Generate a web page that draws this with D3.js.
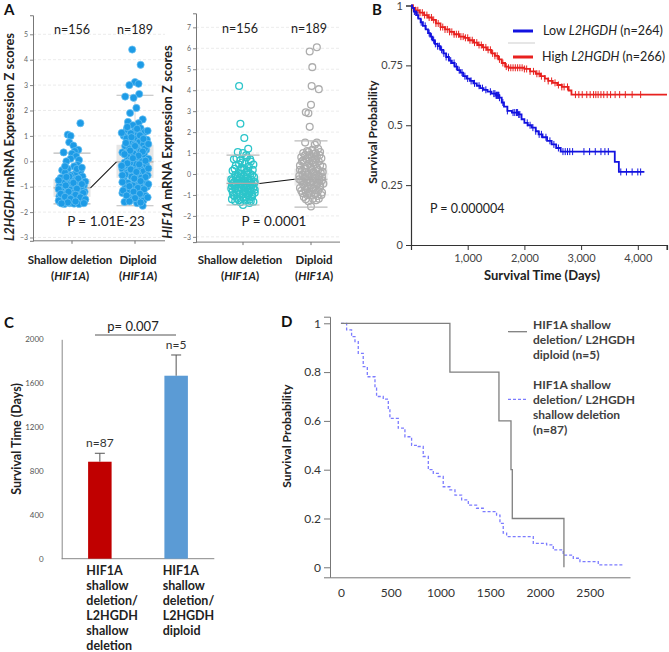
<!DOCTYPE html>
<html><head><meta charset="utf-8">
<script src="https://cdn.jsdelivr.net/npm/d3@7"></script>
<style>
body{margin:0;background:#fff}
text{font-family:Lato,'Open Sans',sans-serif}
</style>
</head><body>
<svg id="c" width="669" height="652" xmlns="http://www.w3.org/2000/svg"></svg>
<script>
// ---------------- DATA ----------------
const groupsA = ["Shallow deletion", "Diploid"];
const nLabelsA = ["n=156", "n=189"];
const l2Ticks = [-3, -2, -1, 0, 1, 2, 3, 4, 5];
const hifTicks = [-3, -2, -1, 0, 1, 2, 3, 4, 5, 6, 7];
// [jitter (-1..1), z score]
const l2Shallow = [[0.6,1.5],[-0.3,1.05],[-0.1,1.0],[-0.2,0.75],[0.1,0.62],[0.45,0.45],[0.2,0.4],[-0.6,0.35],[0.0,0.3],[0.3,0.2],[-0.1,0.1],[0.5,0.05],[0.4,-0.15],[0.15,-0.2],[-0.3,-0.3],[-0.7,-0.35],[0.6,-0.4],[-0.5,-0.45],[0.2,-0.5],[-0.1,-0.55],[0.75,-0.6],[-0.8,-0.65],[0.35,-0.7],[-0.4,-0.72],[0.0,-0.78],[0.55,-0.8],[-0.65,-0.85],[0.25,-0.88],[-0.25,-0.92],[0.85,-0.95],[-0.9,-0.98],[0.05,-1.0],[0.45,-1.03],[-0.5,-1.05],[0.7,-1.1],[-0.15,-1.12],[0.3,-1.15],[-0.75,-1.18],[0.9,-1.2],[-0.35,-1.22],[0.1,-1.25],[0.6,-1.28],[-0.6,-1.3],[-0.05,-1.33],[0.4,-1.36],[-0.9,-1.38],[0.8,-1.4],[-0.3,-1.42],[0.2,-1.45],[0.55,-1.48],[-0.7,-1.5],[0.0,-1.52],[0.9,-1.55],[-0.45,-1.57],[0.35,-1.6],[-0.85,-1.62],[0.7,-1.63],[-0.15,-1.65],[0.15,-1.67],[0.5,-1.68],[-0.55,-1.68],[-0.95,-1.1],[0.95,-0.8],[-0.2,-0.6],[0.65,-1.0],[-0.65,-1.45],
  [-0.4,-0.62],[0.45,-0.68],[-0.95,-0.75],[0.1,-0.85],[0.7,-0.9],[-0.45,-0.95],[0.35,-1.08],[-0.25,-1.2],[0.8,-1.25],[-0.8,-1.28],[0.25,-1.32],[-0.5,-1.4],[0.6,-1.42],[-0.1,-1.48],[0.95,-1.5],[-0.95,-1.55],[0.25,-1.58],[-0.3,-1.62],[0.85,-1.65],[-0.75,-1.66],[0.35,-0.3],[-0.4,0.0],[0.7,-0.25],[-0.5,-0.2]];
const l2Diploid = [[-0.2,4.4],[0.4,3.8],[0.0,3.12],[0.25,3.05],[-0.4,3.0],[0.3,2.65],[-0.7,2.55],[-0.1,2.5],[0.1,2.1],[-0.35,1.9],[0.55,1.65],[-0.5,1.55],[0.25,1.5],[-0.15,1.42],[0.4,1.3],[-0.6,1.25],[0.0,1.2],[0.7,1.15],[-0.3,1.1],[0.2,1.05],[-0.8,1.0],[0.5,0.95],[-0.05,0.9],[0.85,0.85],[-0.5,0.8],[0.3,0.75],[-0.2,0.7],[0.6,0.65],[-0.7,0.6],[0.1,0.55],[-0.4,0.5],[0.8,0.45],[0.4,0.4],[-0.9,0.35],[-0.1,0.3],[0.65,0.25],[-0.55,0.2],[0.2,0.15],[0.95,0.1],[-0.3,0.05],[0.5,0.0],[-0.75,-0.05],[0.05,-0.1],[0.8,-0.15],[-0.45,-0.2],[0.35,-0.25],[-0.9,-0.3],[-0.1,-0.35],[0.6,-0.4],[-0.6,-0.45],[0.2,-0.5],[0.9,-0.55],[-0.25,-0.6],[0.45,-0.65],[-0.8,-0.7],[0.0,-0.75],[0.7,-0.8],[-0.5,-0.85],[0.3,-0.9],[-0.15,-0.95],[0.85,-1.0],[-0.7,-1.05],[0.15,-1.1],[-0.35,-1.15],[0.55,-1.2],[-0.9,-1.25],[0.05,-1.3],[0.75,-1.35],[-0.45,-1.4],[0.35,-1.45],[-0.2,-1.5],[0.6,-1.55],[-0.75,-1.6],[0.15,-1.65],[0.55,-1.75],[-0.6,0.9],[0.7,0.5],[-0.35,-0.05],[0.4,-1.0],[-0.05,0.65],
  [-0.55,1.35],[0.15,1.28],[0.9,1.2],[-0.95,1.12],[0.35,1.02],[-0.25,0.95],[0.6,0.88],[-0.65,0.72],[0.95,0.68],[0.0,0.6],[-0.35,0.42],[0.55,0.38],[-0.75,0.28],[0.25,0.22],[-0.15,0.12],[0.75,0.02],[-0.55,-0.08],[0.3,-0.12],[-0.95,-0.18],[0.95,-0.28],[-0.3,-0.32],[0.1,-0.42],[-0.7,-0.52],[0.75,-0.62],[-0.05,-0.68],[0.4,-0.78],[-0.9,-0.82],[0.95,-0.9],[-0.4,-0.98],[0.2,-1.05],[-0.85,-1.15],[0.65,-1.1],[-0.1,-1.2],[0.35,-1.28],[-0.6,-1.35],[0.9,-1.42],[0.0,-1.45],[-0.4,-1.58],[0.4,-1.62],[-0.9,-0.55]];
const hifShallow = [[-0.3,4.2],[-0.2,2.4],[0.1,1.72],[0.4,1.2],[-0.4,1.05],[0.0,1.0],[-0.7,0.7],[0.3,0.8],[0.6,0.6],[-0.2,0.65],[0.15,0.5],[-0.55,0.4],[0.45,0.35],[-0.1,0.3],[0.75,0.2],[-0.8,0.15],[0.25,0.1],[-0.35,0.05],[0.55,0.0],[-0.6,-0.05],[0.05,-0.1],[0.85,-0.15],[-0.25,-0.18],[0.35,-0.22],[-0.9,-0.25],[0.65,-0.28],[-0.45,-0.3],[0.15,-0.33],[-0.05,-0.36],[0.9,-0.38],[-0.7,-0.4],[0.45,-0.42],[-0.2,-0.45],[0.25,-0.47],[-0.55,-0.5],[0.7,-0.52],[0.0,-0.55],[-0.85,-0.57],[0.5,-0.6],[-0.3,-0.62],[0.2,-0.65],[0.8,-0.67],[-0.6,-0.7],[-0.1,-0.72],[0.4,-0.75],[-0.4,-0.8],[0.6,-0.82],[-0.8,-0.85],[0.1,-0.88],[0.9,-0.9],[-0.25,-0.95],[0.35,-1.0],[-0.65,-1.05],[0.7,-1.08],[0.0,-1.12],[-0.45,-1.18],[0.5,-1.22],[-0.85,-1.2],[0.2,-1.28],[0.8,-1.32],[-0.2,-1.35],[0.0,-1.48],[0.6,-1.3],[-0.55,-0.15],[0.3,-0.02],[-0.15,0.2],[0.5,-0.35],[-0.75,-0.48],
  [0.25,0.9],[-0.5,0.75],[0.55,0.7],[-0.05,0.55],[0.8,0.45],[-0.3,0.45],[0.1,0.25],[-0.65,0.25],[0.4,0.15],[-0.15,0.0],[0.7,-0.05],[-0.4,-0.1],[0.2,-0.2],[-0.8,-0.3],[0.85,-0.45],[-0.1,-0.5],[0.35,-0.58],[-0.65,-0.62],[0.6,-0.68],[-0.35,-0.75],[0.15,-0.8],[0.9,-0.75],[-0.9,-0.7],[0.45,-0.9],[-0.5,-0.9],[0.0,-0.95],[0.7,-0.98],[-0.75,-1.0],[0.25,-1.1],[-0.3,-1.25],[0.5,-1.38],[-0.6,-1.3]];
const hifDiploid = [[0.45,6.05],[-0.1,5.85],[0.1,5.1],[0.05,4.2],[0.6,4.05],[0.0,3.3],[-0.4,2.95],[-0.2,2.9],[-0.1,2.25],[-0.45,1.5],[0.45,1.5],[0.3,1.4],[0.55,1.2],[0.1,1.15],[-0.3,1.1],[0.7,1.05],[-0.6,1.0],[0.2,0.95],[-0.1,0.9],[0.45,0.85],[-0.75,0.8],[0.8,0.75],[-0.35,0.7],[0.1,0.65],[0.6,0.6],[-0.55,0.55],[-0.15,0.5],[0.35,0.45],[-0.85,0.4],[0.9,0.35],[0.0,0.3],[-0.45,0.25],[0.55,0.2],[-0.7,0.15],[0.2,0.1],[0.75,0.05],[-0.25,0.0],[0.4,-0.05],[-0.9,-0.08],[0.05,-0.12],[0.85,-0.15],[-0.5,-0.18],[0.3,-0.22],[-0.15,-0.25],[0.65,-0.28],[-0.75,-0.32],[0.15,-0.35],[-0.35,-0.4],[0.5,-0.43],[0.95,-0.46],[-0.6,-0.5],[0.0,-0.53],[0.35,-0.57],[-0.25,-0.6],[0.7,-0.64],[-0.85,-0.67],[0.2,-0.7],[-0.45,-0.75],[0.55,-0.8],[-0.1,-0.85],[0.85,-0.88],[-0.65,-0.92],[0.3,-0.96],[-0.3,-1.0],[0.5,-1.05],[-0.55,-1.1],[0.15,-1.18],[0.4,-1.25],[-0.2,-1.3],[0.0,-1.55],[-0.7,0.6],[0.6,-0.1],[-0.4,-0.9],[0.25,0.75],
  [0.35,1.0],[-0.2,1.05],[0.65,0.9],[-0.45,0.9],[0.05,0.8],[0.4,0.7],[-0.6,0.65],[0.2,0.55],[-0.3,0.4],[0.7,0.4],[-0.05,0.35],[0.45,0.28],[-0.85,0.2],[0.1,0.18],[-0.45,0.08],[0.9,0.1],[0.3,0.0],[-0.65,-0.02],[0.6,-0.1],[-0.3,-0.12],[0.15,-0.2],[-0.9,-0.25],[0.85,-0.3],[-0.05,-0.4],[0.45,-0.5],[-0.5,-0.58],[0.7,-0.55],[0.1,-0.65],[-0.75,-0.8],[0.35,-0.78],[-0.2,-0.95],[0.8,-1.0],[-0.4,-1.2],[0.6,-1.18],[0.0,-1.0],[-0.6,-0.35]];
const l2Box = [{lo:-1.68,q1:-1.4,med:-1.05,q3:-0.7,hi:0.32},{lo:-1.75,q1:-0.65,med:-0.02,q3:0.65,hi:2.6}];
const hifBox = [{lo:-1.48,q1:-0.75,med:-0.45,q3:-0.1,hi:0.9},{lo:-1.58,q1:-0.55,med:-0.25,q3:0.25,hi:1.58}];

// Panel B: Kaplan–Meier, [time (days), survival probability]
const kmLow = [[0,1],[20,0.99],[50,0.975],[90,0.96],[130,0.945],[170,0.93],[210,0.915],[260,0.9],[300,0.885],[340,0.87],[380,0.855],[420,0.84],[470,0.83],[520,0.815],[570,0.8],[620,0.785],[670,0.77],[720,0.76],[770,0.745],[820,0.73],[870,0.72],[920,0.705],[980,0.695],[1040,0.685],[1100,0.675],[1160,0.665],[1220,0.655],[1280,0.648],[1350,0.64],[1420,0.632],[1500,0.625],[1560,0.615],[1600,0.595],[1640,0.578],[1700,0.56],[1780,0.553],[1900,0.545],[1950,0.525],[2000,0.51],[2060,0.5],[2130,0.49],[2200,0.475],[2250,0.462],[2320,0.45],[2400,0.435],[2480,0.42],[2560,0.405],[2640,0.39],[3594,0.347],[3666,0.305]];
const kmLowEnd = 4116;
const kmLowCensor = [60,120,180,250,320,360,400,430,470,500,540,580,620,660,700,760,800,850,900,950,1000,1060,1120,1200,1260,1320,1400,1460,1480,1500,1510,1520,1530,1540,1550,1560,1620,1700,1800,1830,1860,1880,1900,1920,2050,2100,2150,2200,2260,2300,2380,2450,2520,2600,2680,2720,2760,2800,2850,3050,3150,3250,3350,3420,3480,3700,3800,3900,4000,4050];
const kmHigh = [[0,1],[30,0.99],[80,0.98],[150,0.97],[230,0.96],[300,0.95],[370,0.94],[440,0.925],[520,0.91],[600,0.9],[680,0.89],[760,0.88],[850,0.87],[940,0.865],[1020,0.855],[1100,0.845],[1180,0.835],[1260,0.825],[1340,0.815],[1420,0.8],[1480,0.79],[1540,0.775],[1600,0.76],[1660,0.745],[1720,0.74],[2000,0.735],[2100,0.725],[2200,0.715],[2280,0.705],[2360,0.695],[2420,0.685],[2500,0.677],[2580,0.668],[2660,0.66],[2780,0.645],[2830,0.628]];
const kmHighEnd = 4515;
const kmHighCensor = [40,80,120,160,200,240,280,320,360,400,440,480,520,560,600,640,680,720,760,800,840,880,920,960,1000,1040,1080,1120,1160,1200,1240,1280,1320,1360,1400,1440,1480,1520,1560,1620,1680,1720,1760,1800,1840,1880,1920,1960,2000,2040,2100,2160,2220,2260,2300,2360,2420,2480,2540,2600,2660,2700,2760,2900,2960,3020,3100,3160,3220,3260,3300,3350,3400,3460,3520,3600,3680,3780,3900,4050];
const kmYTicks = [0, 0.25, 0.5, 0.75, 1];
const kmXTicks = [1000, 2000, 3000, 4000];

// Panel C: bars
const barCats = ["sd", "dip"];
const barValues = [884, 1668];
const barErrors = [77, 189];
const barN = ["n=87", "n=5"];
const barLabels = [["HIF1A","shallow","deletion/","L2HGDH","shallow","deletion"],["HIF1A","shallow","deletion/","L2HGDH","diploid"]];
const barTicks = [0, 400, 800, 1200, 1600, 2000];

// Panel D: KM
const dDiploid = [[0,1],[1095,0.8],[1588,0.6],[1709,0.4],[1722,0.2],[2241,0]];
const dDiploidEnd = 2241;
const dShallow = [[0,1],[57,0.973],[107,0.945],[141,0.925],[174,0.877],[224,0.822],[265,0.781],[342,0.734],[358,0.70],[425,0.689],[476,0.645],[492,0.61],[576,0.57],[643,0.535],[710,0.50],[777,0.495],[827,0.454],[878,0.40],[928,0.385],[978,0.372],[1028,0.33],[1095,0.317],[1146,0.296],[1213,0.276],[1280,0.255],[1363,0.242],[1430,0.228],[1564,0.214],[1598,0.18],[1631,0.14],[1665,0.126],[1933,0.098],[2067,0.092],[2134,0.071],[2234,0.05],[2335,0.037],[2402,0.023],[2586,0.01]];
const dShallowEnd = 2837;
const dYTicks = [0, 0.2, 0.4, 0.6, 0.8, 1];
const dXTicks = [0, 500, 1000, 1500, 2000, 2500];

// ---------------- DRAW ----------------
const svg = d3.select("#c");
svg.append("rect").attr("width",669).attr("height",652).attr("fill","#fff");

function txt(g, x, y, s, o = {}) {
  const t = g.append("text").attr("x", x).attr("y", y).text(s)
    .attr("font-size", o.size || 12).attr("fill", o.fill || "#222")
    .attr("text-anchor", o.anchor || "start");
  if (o.bold) t.attr("font-weight", "bold");
  if (o.family) t.attr("font-family", o.family);
  return t;
}
function rich(g, x, y, parts, o = {}) {
  const t = g.append("text").attr("font-size", o.size || 12).attr("fill", o.fill || "#222")
    .attr("text-anchor", o.anchor || "middle");
  if (o.rotate) t.attr("transform", `translate(${x},${y}) rotate(-90)`);
  else t.attr("x", x).attr("y", y);
  if (o.bold) t.attr("font-weight", "bold");
  parts.forEach(p => t.append("tspan").text(p[0]).attr("font-style", p[1] ? "italic" : "normal"));
  return t;
}

const letterFont = "'Liberation Sans', Arial, sans-serif";
txt(svg, 4, 15, "A", {size: 15, bold: true, family: letterFont, fill:"#111"});
txt(svg, 372, 15, "B", {size: 15, bold: true, family: letterFont, fill:"#111"});
txt(svg, 4, 328, "C", {size: 15, bold: true, family: letterFont, fill:"#111"});
txt(svg, 281, 327, "D", {size: 15, bold: true, family: letterFont, fill:"#111"});

// ----- Panel A helper -----
function scatterPanel(cfg) {
  const g = svg.append("g");
  const x = d3.scalePoint().domain(groupsA).range(cfg.xr);
  const y = d3.scaleLinear().domain(cfg.yd).range(cfg.yr);
  g.selectAll(".grid").data(cfg.ticks).join("line")
    .attr("x1", cfg.axX).attr("x2", cfg.axRight).attr("y1", d => y(d)).attr("y2", d => y(d))
    .attr("stroke", "#e6e6e6").attr("stroke-dasharray", "3,2").attr("stroke-width", 0.8);
  const ya = g.append("g").attr("transform", `translate(${cfg.axX},0)`)
    .call(d3.axisLeft(y).tickValues(cfg.ticks).tickSize(3).tickPadding(2));
  ya.select(".domain").attr("stroke", "#777");
  ya.selectAll(".tick line").attr("stroke", "#888");
  ya.selectAll(".tick text").attr("font-size", 7).attr("fill", "#666")
    .attr("font-family", "'Liberation Sans', Arial, sans-serif");
  g.append("line").attr("x1", cfg.axX).attr("x2", cfg.axRight).attr("y1", y.range()[0]).attr("y2", y.range()[0]).attr("stroke", "#777");
  g.selectAll(".xt").data(groupsA).join("line").attr("x1", d => x(d)).attr("x2", d => x(d))
    .attr("y1", y.range()[0]).attr("y2", y.range()[0] + 3).attr("stroke", "#777");
  const bw = cfg.boxW;
  cfg.box.forEach((b, i) => {
    const cx = x(groupsA[i]);
    g.append("line").attr("x1", cx).attr("x2", cx).attr("y1", y(b.hi)).attr("y2", y(b.lo)).attr("stroke", "#d8d8d8");
    g.append("rect").attr("x", cx - bw / 2).attr("width", bw).attr("y", y(b.q3)).attr("height", y(b.q1) - y(b.q3))
      .attr("fill", "#e6e6e6").attr("fill-opacity", cfg.boxOpacity);
  });
  const drawLines = () => cfg.box.forEach((b, i) => {
    const cx = x(groupsA[i]);
    [b.lo, b.hi].forEach(v => g.append("line").attr("x1", cx - bw / 2).attr("x2", cx + bw / 2).attr("y1", y(v)).attr("y2", y(v)).attr("stroke", "#bbb").attr("stroke-width", 1.2));
    g.append("line").attr("x1", cx - bw / 2).attr("x2", cx + bw / 2).attr("y1", y(b.med)).attr("y2", y(b.med)).attr("stroke", "#aaa").attr("stroke-width", 1.2);
  });
  if (!cfg.linesOnTop) drawLines();
  cfg.series.forEach((s, i) => {
    g.selectAll(null).data(s).join("circle")
      .attr("cx", d => x(groupsA[i]) + d[0] * cfg.jit).attr("cy", d => y(d[1])).attr("r", cfg.r)
      .attr("fill", cfg.fill[i]).attr("stroke", cfg.stroke[i]).attr("stroke-width", cfg.sw);
  });
  if (cfg.linesOnTop) drawLines();
  g.append("line").attr("x1", x(groupsA[0]) + bw / 2).attr("y1", y(cfg.box[0].med))
    .attr("x2", x(groupsA[1]) - bw / 2).attr("y2", y(cfg.box[1].med)).attr("stroke", "#111").attr("stroke-width", 1.1);
  nLabelsA.forEach((n, i) => txt(g, x(groupsA[i]) + cfg.nOff[i], cfg.nY, n, {size: 12.5, anchor: "middle", fill: "#222"}));
  txt(g, cfg.pX, cfg.pY, cfg.pText, {size: 13.5, anchor: "middle", fill: "#222"});
  groupsA.forEach((c, i) => {
    txt(g, x(c) + cfg.lblOff[i], 264, c, {size: 11.5, bold: true, anchor: "middle", fill: "#222"});
    rich(g, x(c) + cfg.lblOff[i], 280, [["(", 0], ["HIF1A", 1], [")", 0]], {size: 11.5, bold: true, fill: "#222"});
  });
  rich(g, cfg.titleX, cfg.titleY, cfg.title, {size: 13, bold: true, rotate: true, fill: "#222"});
}

scatterPanel({
  xr: [72, 135], yd: [-3.13, 5.75], yr: [240.8, 15.25], ticks: l2Ticks, axX: 33, axRight: 165,
  box: l2Box, boxW: 37, boxOpacity: 1, linesOnTop: false, jit: 14, r: 3.6,
  series: [l2Shallow, l2Diploid], fill: ["#1d9be6", "#1d9be6"], stroke: ["#6cc2f2", "#6cc2f2"], sw: 0.7,
  nOff: [0, 0], nY: 34, pX: 106, pY: 226, pText: "P = 1.01E-23", lblOff: [-2, 3],
  titleX: 14, titleY: 137, title: [["L2HGDH", 1], [" mRNA Expression Z scores", 0]]
});
scatterPanel({
  xr: [243, 311], yd: [-3.25, 7.67], yr: [242.1, 13.3], ticks: hifTicks, axX: 196, axRight: 340,
  box: hifBox, boxW: 33, boxOpacity: 0.75, linesOnTop: true, jit: 13, r: 3.4,
  series: [hifShallow, hifDiploid], fill: ["none", "none"], stroke: ["#2cc5ca", "#adadad"], sw: 1.3,
  nOff: [-3, -2], nY: 33, pX: 274, pY: 226, pText: "P = 0.0001", lblOff: [-3, 3],
  titleX: 172, titleY: 142, title: [["HIF1A", 1], [" mRNA Expression Z scores", 0]]
});

// ----- Panel B -----
(function () {
  const g = svg.append("g");
  const x = d3.scaleLinear().domain([0, 4515]).range([411, 667]);
  const y = d3.scaleLinear().domain([0, 1]).range([245, 5.5]);
  const af = "'Liberation Sans', Arial, sans-serif";
  const ya = g.append("g").attr("transform", "translate(411,0)")
    .call(d3.axisLeft(y).tickValues(kmYTicks).tickFormat(d => String(d)).tickSize(5).tickPadding(3));
  const xa = g.append("g").attr("transform", "translate(0,245)")
    .call(d3.axisBottom(x).tickValues(kmXTicks).tickFormat(d3.format(",")).tickSize(5).tickPadding(4));
  [ya, xa].forEach(a => {
    a.select(".domain").attr("stroke", "#333").attr("stroke-width", 1.2);
    a.selectAll(".tick line").attr("stroke", "#333");
    a.selectAll(".tick text").attr("font-size", 11).attr("fill", "#444").attr("font-family", af);
  });
  g.append("line").attr("x1", 667).attr("x2", 667).attr("y1", 245).attr("y2", 250).attr("stroke", "#333");
  const stepPath = (data, end) => {
    let d = `M${x(data[0][0])},${y(data[0][1])}`;
    for (let i = 1; i < data.length; i++) d += `H${x(data[i][0])}V${y(data[i][1])}`;
    return d + `H${x(end)}`;
  };
  const sAt = (data, t) => { let s = data[0][1]; for (const p of data) if (p[0] <= t) s = p[1]; return s; };
  [[kmHigh, kmHighEnd, kmHighCensor, "#e8211f"], [kmLow, kmLowEnd, kmLowCensor, "#1212e0"]].forEach(([data, end, cens, col]) => {
    g.append("path").attr("d", stepPath(data, end)).attr("fill", "none").attr("stroke", col).attr("stroke-width", 1.8);
    g.selectAll(null).data(cens).join("line")
      .attr("x1", d => x(d)).attr("x2", d => x(d)).attr("y1", d => y(sAt(data, d)) - 3.5).attr("y2", d => y(sAt(data, d)) + 3.5)
      .attr("stroke", col).attr("stroke-width", 1);
  });
  g.append("line").attr("x1", 508).attr("x2", 535).attr("y1", 43).attr("y2", 43).attr("stroke", "#e6e6e6").attr("stroke-width", 2);
  g.append("line").attr("x1", 513).attr("x2", 533).attr("y1", 31).attr("y2", 31).attr("stroke", "#1212e0").attr("stroke-width", 3);
  g.append("line").attr("x1", 513).attr("x2", 533).attr("y1", 57).attr("y2", 57).attr("stroke", "#e8211f").attr("stroke-width", 3);
  rich(g, 543, 35, [["Low ", 0], ["L2HGDH", 1], [" (n=264)", 0]], {size: 12.5, anchor: "start"});
  rich(g, 542, 61, [["High ", 0], ["L2HGDH", 1], [" (n=266)", 0]], {size: 12.5, anchor: "start"});
  txt(g, 430, 213, "P = 0.000004", {size: 12.5});
  txt(g, 542, 280, "Survival Time (Days)", {size: 13, bold: true, anchor: "middle"});
  rich(g, 377, 132, [["Survival Probability", 0]], {size: 12, bold: true, rotate: true});
})();

// ----- Panel C -----
(function () {
  const g = svg.append("g");
  const x = d3.scalePoint().domain(barCats).range([61.7, 214.3]).padding(0.5);
  const y = d3.scaleLinear().domain([0, 2000]).range([558.7, 339.3]);
  const bw = 23.5;
  const ya = g.append("g").attr("transform", "translate(61.7,0)")
    .call(d3.axisLeft(y).tickValues(barTicks).tickFormat(d3.format("d")).tickSize(0).tickPadding(18));
  ya.select(".domain").attr("stroke", "#888");
  ya.selectAll(".tick text").attr("font-size", 8).attr("fill", "#555");
  g.append("line").attr("x1", 61.7).attr("x2", 214.3).attr("y1", y(0)).attr("y2", y(0)).attr("stroke", "#888");
  const cols = ["#c00000", "#5b9bd5"];
  barCats.forEach((c, i) => {
    const cx = x(c);
    g.append("rect").attr("x", cx - bw / 2).attr("width", bw).attr("y", y(barValues[i])).attr("height", y(0) - y(barValues[i])).attr("fill", cols[i]);
    const top = y(barValues[i] + barErrors[i]);
    g.append("line").attr("x1", cx).attr("x2", cx).attr("y1", y(barValues[i])).attr("y2", top).attr("stroke", "#555");
    g.append("line").attr("x1", cx - 5).attr("x2", cx + 5).attr("y1", top).attr("y2", top).attr("stroke", "#555");
    txt(g, cx, top - 6, barN[i], {size: 12, anchor: "middle", fill: "#333"});
    barLabels[i].forEach((l, k) => txt(g, cx - 13.5, 575 + k * 15, l, {size: 12.5, bold: true, fill: "#222"}));
  });
  g.append("line").attr("x1", 95).attr("x2", 176).attr("y1", 335).attr("y2", 335).attr("stroke", "#555");
  txt(g, 133, 331, "p= 0.007", {size: 13, anchor: "middle", fill: "#222"});
  rich(g, 21, 439, [["Survival Time (Days)", 0]], {size: 12.5, bold: true, rotate: true});
})();

// ----- Panel D -----
(function () {
  const g = svg.append("g");
  const x = d3.scaleLinear().domain([-110, 2905]).range([330, 630]);
  const y = d3.scaleLinear().domain([-0.041, 1.027]).range([577.3, 316.7]);
  const ya = g.append("g").attr("transform", "translate(330,0)")
    .call(d3.axisLeft(y).tickValues(dYTicks).tickFormat(d => String(d)).tickSize(6).tickPadding(3));
  ya.select(".domain").attr("stroke", "#777");
  ya.selectAll(".tick line").attr("stroke", "#777");
  ya.selectAll(".tick text").attr("font-size", 12).attr("fill", "#333");
  const xa = g.append("g").attr("transform", "translate(0,577.3)")
    .call(d3.axisBottom(x).tickValues(dXTicks).tickFormat(d3.format("d")).tickSize(0).tickPadding(11));
  xa.select(".domain").attr("stroke", "#777");
  xa.selectAll(".tick text").attr("font-size", 12).attr("fill", "#333");
  const stepPath = (data, end) => {
    let d = `M${x(data[0][0])},${y(data[0][1])}`;
    for (let i = 1; i < data.length; i++) d += `H${x(data[i][0])}V${y(data[i][1])}`;
    return d + `H${x(end)}`;
  };
  g.append("path").attr("d", stepPath(dShallow, dShallowEnd)).attr("fill", "none").attr("stroke", "#7b7bff").attr("stroke-width", 1.3).attr("stroke-dasharray", "3,2");
  g.append("path").attr("d", stepPath(dDiploid, dDiploidEnd)).attr("fill", "none").attr("stroke", "#7f7f7f").attr("stroke-width", 1.3);
  g.append("line").attr("x1", 508).attr("x2", 527).attr("y1", 331.7).attr("y2", 331.7).attr("stroke", "#7f7f7f").attr("stroke-width", 1.3);
  g.append("line").attr("x1", 508).attr("x2", 528).attr("y1", 399.3).attr("y2", 399.3).attr("stroke", "#7b7bff").attr("stroke-width", 1.3).attr("stroke-dasharray", "3,2");
  const leg1 = ["HIF1A shallow", "deletion/ L2HGDH", "diploid (n=5)"];
  const leg2 = ["HIF1A shallow", "deletion/ L2HGDH", "shallow deletion", "(n=87)"];
  leg1.forEach((l, k) => txt(g, 533, 329 + k * 15, l, {size: 12, bold: true, fill: "#404040"}));
  leg2.forEach((l, k) => txt(g, 533, 389 + k * 15, l, {size: 12, bold: true, fill: "#404040"}));
  rich(g, 291, 436, [["Survival Probability", 0]], {size: 12, bold: true, rotate: true});
})();
</script>
</body></html>
